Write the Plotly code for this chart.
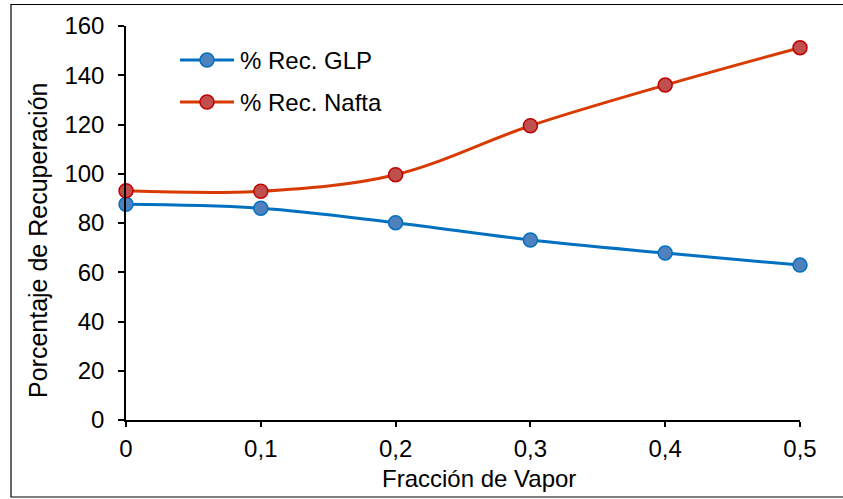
import plotly.graph_objects as go

fraccion = [0, 0.1, 0.2, 0.3, 0.4, 0.5]
rec_glp = [87.6, 86.0, 80.1, 73.1, 67.8, 62.9]
rec_nafta = [93.1, 92.9, 99.6, 119.5, 136.0, 151.2]
series_names = ["% Rec. GLP", "% Rec. Nafta"]
line_colors = ["#0070C0", "#D83B01"]
marker_fills = ["#4F81BD", "#C0504D"]
marker_edges = ["#0070C0", "#C00000"]
x_title = "Fracción de Vapor"
y_title = "Porcentaje de Recuperación"

W, H = 843, 499
L, R, T, B = 126, 43, 26, 79
pw, ph = W - L - R, H - T - B

font = dict(family="Liberation Sans, Arial", size=24, color="#000000")

def px(xp):
    return (xp - L) / pw

def py(yp):
    return (H - B - yp) / ph

fig = go.Figure()
shapes = []
annotations = []
for i, ys in enumerate([rec_glp, rec_nafta]):
    fig.add_trace(go.Scatter(
        x=fraccion, y=ys, name=series_names[i], mode="lines+markers",
        line=dict(color=line_colors[i], width=3, shape="spline", smoothing=1),
        marker=dict(size=14, color=marker_fills[i], line=dict(color=marker_edges[i], width=1.5)),
        cliponaxis=False, showlegend=False))
    # custom legend entry
    ry = 60 + 42 * i
    shapes.append(dict(type="line", xref="paper", yref="paper",
                       x0=px(180), x1=px(234), y0=py(ry), y1=py(ry),
                       line=dict(color=line_colors[i], width=3)))
    shapes.append(dict(type="circle", xref="paper", yref="paper",
                       x0=px(200), x1=px(214), y0=py(ry + 7), y1=py(ry - 7),
                       fillcolor=marker_fills[i], line=dict(color=marker_edges[i], width=1.5)))
    annotations.append(dict(xref="paper", yref="paper", x=px(238), y=py(ry),
                            xanchor="left", yanchor="middle", text=series_names[i],
                            showarrow=False, font=font))

# axis titles
annotations.append(dict(xref="paper", yref="paper", x=px(478.5), y=py(478),
                        xanchor="center", yanchor="middle", text=x_title,
                        showarrow=False, font=font))
annotations.append(dict(xref="paper", yref="paper", x=px(38), y=py(240),
                        xanchor="center", yanchor="middle", text=y_title, textangle=-90,
                        showarrow=False, font=dict(font, size=25)))

shapes.append(dict(type="rect", xref="paper", yref="paper",
                   x0=px(11), x1=px(950), y0=py(497), y1=py(4.5),
                   line=dict(color="#000000", width=1.2), fillcolor="rgba(0,0,0,0)",
                   layer="below"))

fig.update_layout(
    width=W, height=H,
    margin=dict(l=L, r=R, t=T, b=B),
    paper_bgcolor="white", plot_bgcolor="white",
    font=font,
    separators=", ",
    showlegend=False,
    xaxis=dict(range=[0, 0.5], dtick=0.1, tick0=0, showgrid=False, zeroline=False,
               showline=True, linecolor="#000000", linewidth=1.5,
               ticks="outside", ticklen=5, tickwidth=1.5, tickcolor="#000000",
               tickfont=font, ticklabelstandoff=1),
    yaxis=dict(range=[0, 160], dtick=20, tick0=0, showgrid=False, zeroline=False,
               showline=True, linecolor="#000000", linewidth=1.5,
               ticks="outside", ticklen=6, tickwidth=1.5, tickcolor="#000000",
               tickfont=font, ticklabelstandoff=9),
    shapes=shapes,
    annotations=annotations,
)

fig.write_html("out.html")
